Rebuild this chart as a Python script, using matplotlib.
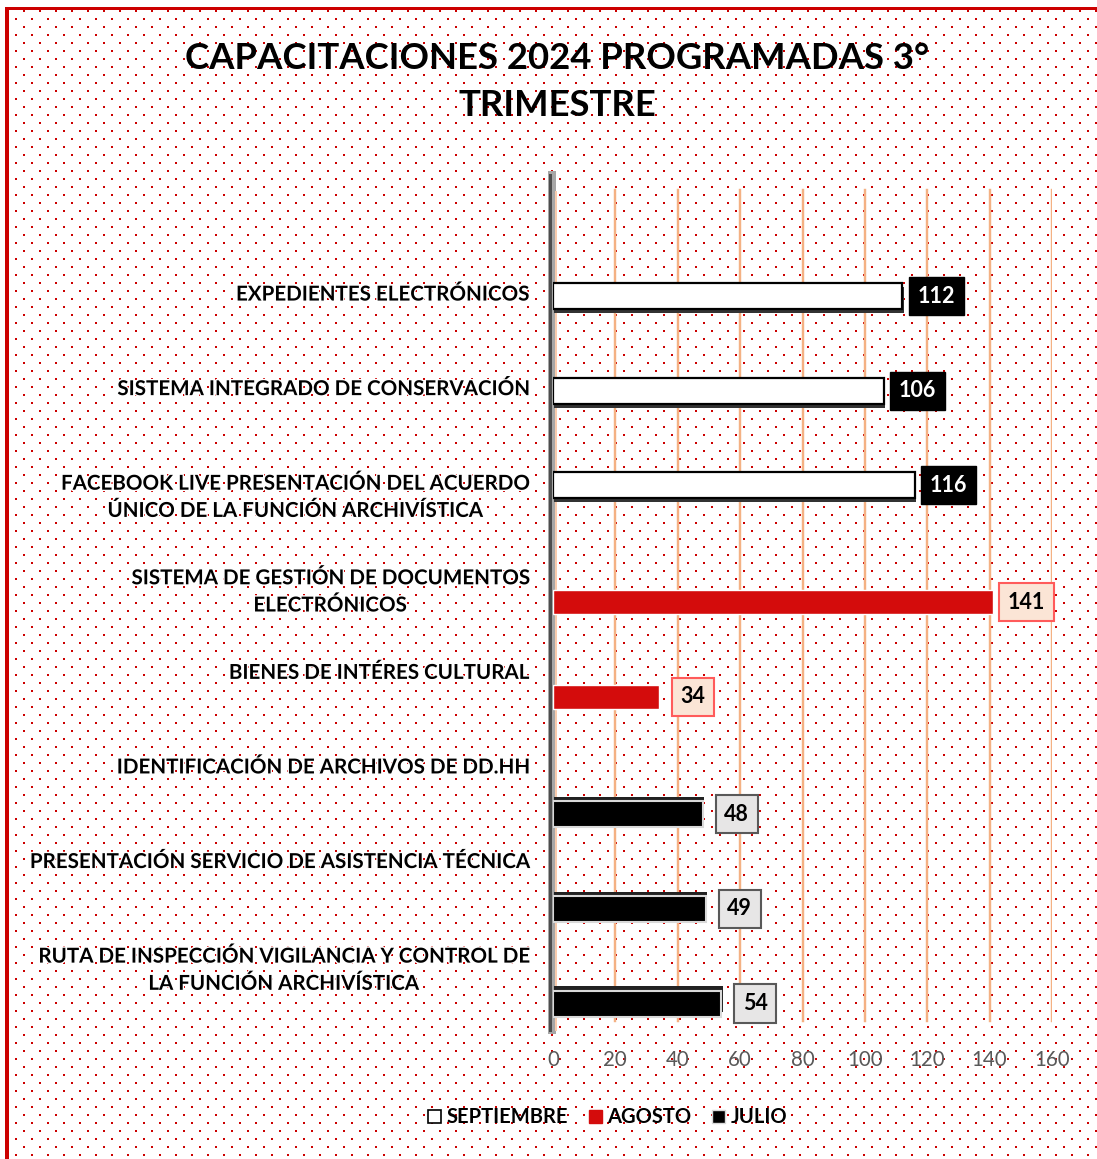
import matplotlib.pyplot as plt
import matplotlib.patheffects as pe
from matplotlib.lines import Line2D
import numpy as np

plt.rcParams['font.family'] = ['Lato', 'DejaVu Sans']

# data
categorias = [
    'EXPEDIENTES ELECTRÓNICOS',
    'SISTEMA INTEGRADO DE CONSERVACIÓN',
    'FACEBOOK LIVE PRESENTACIÓN DEL ACUERDO\nÚNICO DE LA FUNCIÓN ARCHIVÍSTICA',
    'SISTEMA DE GESTIÓN DE DOCUMENTOS\nELECTRÓNICOS',
    'BIENES DE INTÉRES CULTURAL',
    'IDENTIFICACIÓN DE ARCHIVOS DE DD.HH',
    'PRESENTACIÓN SERVICIO DE ASISTENCIA TÉCNICA',
    'RUTA DE INSPECCIÓN VIGILANCIA Y CONTROL DE\nLA FUNCIÓN ARCHIVÍSTICA',
]
septiembre = [112, 106, 116, 0, 0, 0, 0, 0]
agosto = [0, 0, 0, 141, 34, 0, 0, 0]
julio = [0, 0, 0, 0, 0, 48, 49, 54]
series_names = ['SEPTIEMBRE', 'AGOSTO', 'JULIO']
xticks = [0, 20, 40, 60, 80, 100, 120, 140, 160]

W, H = 1097, 1159
PX = 72 / 100  # points per pixel at dpi 100
RED = '#CC0000'

fig = plt.figure(figsize=(W / 100, H / 100), dpi=100)

# dotted background + red frame
bg = fig.add_axes([0, 0, 1, 1], zorder=-5)
bg.set_xlim(0, W)
bg.set_ylim(H, 0)
bg.axis('off')
rows = np.arange(11, H, 8)
xs, ys = [], []
for k, yy in enumerate(rows):
    start = 24 if k % 2 == 0 else 16
    cols = np.arange(start, W, 16)
    xs.append(cols)
    ys.append(np.full(len(cols), yy))
bg.scatter(np.concatenate(xs), np.concatenate(ys), s=2.2, marker='s', color=RED, linewidths=0)
bg.plot([7, 7], [7, H], color=RED, lw=4 * PX, solid_capstyle='butt')
bg.plot([5, W], [8, 8], color=RED, lw=3 * PX, solid_capstyle='butt')

# main chart area
ax = fig.add_axes([553 / W, 1 - 1030 / H, (1052 - 553) / W, (1030 - 175) / H])
ax.set_facecolor('none')
ax.set_xlim(0, 160)
ax.set_ylim(7.76, -1.28)

y = np.arange(len(categorias))
bar_h = 0.275
offsets = [0.0, 0.236, 0.48]

for xv in xticks[1:]:
    ax.axvline(xv, ymin=0.01, ymax=0.983, color='#F4B183', lw=2 * PX + 0.3, zorder=1)

# grey 3D wall at x=0
ax.axvline(-0.3, color='#A6A6A6', lw=8 * PX, zorder=2, clip_on=False)
ax.axvline(-1.1, color='#4D4D4D', lw=3 * PX, zorder=2, clip_on=False)
ax.axvline(0.9, ymax=0.98, color='#F8CBAD', lw=2 * PX, zorder=2, clip_on=False)

sept = np.array(septiembre)
ago = np.array(agosto)
jul = np.array(julio)

m = sept > 0
ax.barh(y[m] + offsets[0], sept[m], height=bar_h, color='white', edgecolor='black',
        linewidth=1.6, zorder=3,
        path_effects=[pe.SimplePatchShadow(offset=(1, -3), shadow_rgbFace='#333333', alpha=1),
                      pe.Normal()])
m = ago > 0
ax.barh(y[m] + offsets[1], ago[m], height=bar_h * 0.93, color='#D40C0C', edgecolor='white',
        linewidth=1, zorder=3)
m = jul > 0
ax.barh(y[m] + offsets[2], jul[m], height=bar_h, color='black', edgecolor='#D9D9D9',
        linewidth=1.5, zorder=3,
        path_effects=[pe.SimplePatchShadow(offset=(1, 3), shadow_rgbFace='#222222', alpha=1),
                      pe.Normal()])

label_styles = [
    dict(color='white', bbox=dict(boxstyle='square,pad=0.4', fc='black', ec='black', lw=1)),
    dict(color='black', bbox=dict(boxstyle='square,pad=0.4', fc='#FBE5D6', ec='#FF5B5B', lw=1.5)),
    dict(color='black', bbox=dict(boxstyle='square,pad=0.4', fc='#E7E6E6', ec='#595959', lw=1.5)),
]
for vals, off, st in zip([sept, ago, jul], offsets, label_styles):
    for i, v in enumerate(vals):
        if v > 0:
            ax.annotate(str(v), xy=(v, i + off), xytext=(34 * PX, 0), textcoords='offset points',
                        ha='center', va='center', fontsize=15.5, fontweight='bold', zorder=5, **st)

# category labels, first line centred on the category
for i, lab in enumerate(categorias):
    ax.annotate(lab, xy=(0, i), xytext=(-25 * PX, 11.5 * PX), textcoords='offset points',
                ha='right', va='top', multialignment='center', fontsize=14.8,
                fontweight='bold', color='black', linespacing=1.45,
                path_effects=[pe.withStroke(linewidth=2, foreground='white')])

ax.set_yticks([])
ax.set_xticks(xticks)
ax.set_xticklabels([str(t) for t in xticks], fontsize=14.8, color='#595959')
ax.tick_params(axis='x', length=0, pad=20 * PX)
for s in ax.spines.values():
    s.set_visible(False)

fig.text(557 / W, 1 - 82 / H, 'CAPACITACIONES 2024 PROGRAMADAS 3°\nTRIMESTRE',
         ha='center', va='center', fontsize=26.3, fontweight='bold', linespacing=1.55)

handles = [
    Line2D([], [], ls='none', marker='s', ms=10 * PX * 1.3, mfc='white', mec='black', mew=1.2),
    Line2D([], [], ls='none', marker='s', ms=10 * PX * 1.3, mfc='#D40C0C', mec='#D40C0C'),
    Line2D([], [], ls='none', marker='s', ms=10 * PX * 1.3, mfc='black', mec='#D9D9D9', mew=1),
]
fig.legend(handles, series_names, loc='center', bbox_to_anchor=(607 / W, 1 - 1117 / H), ncol=3,
           frameon=False, prop=dict(size=14.5, weight='bold'), handlelength=0.7,
           handletextpad=0.25, columnspacing=1.0)

fig.savefig('out.png', dpi=100)
